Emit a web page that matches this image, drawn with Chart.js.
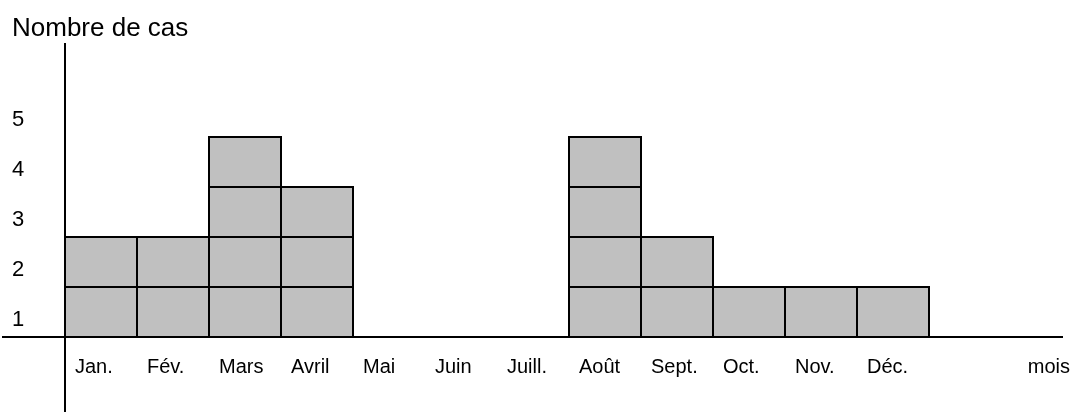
<!DOCTYPE html>
<html lang="fr">
<head>
<meta charset="utf-8">
<script src="https://cdn.jsdelivr.net/npm/chart.js@4.4.1/dist/chart.umd.min.js"></script>
<style>
  html, body { margin: 0; padding: 0; background: #fff; }
  #cadre { width: 1071px; height: 412px; }
</style>
</head>
<body>
<div id="cadre"><canvas id="graphique"></canvas></div>
<script>
const mois = ['Jan.', 'Fév.', 'Mars', 'Avril', 'Mai', 'Juin', 'Juill.', 'Août', 'Sept.', 'Oct.', 'Nov.', 'Déc.'];
const nombreCas = [2, 2, 4, 3, 0, 0, 0, 4, 2, 1, 1, 1];
const graduations = [1, 2, 3, 4, 5];
const titreAxeY = 'Nombre de cas';
const titreAxeX = 'mois';

const police = 'Arial, "Liberation Sans", sans-serif';

// un dataset par niveau : chaque cas est un carré
const niveaux = Math.max(...nombreCas);
const datasets = [];
for (let k = 1; k <= niveaux; k++) {
  datasets.push({
    label: 'cas ' + k,
    data: nombreCas.map(n => (n >= k ? 1 : null)),
    backgroundColor: '#c0c0c0',
    borderColor: '#000000',
    borderWidth: 2,
    inflateAmount: 1,
    borderSkipped: false,
    barPercentage: 1,
    categoryPercentage: 1,
    clip: false,
    stack: 'cas'
  });
}

// axes qui dépassent la zone du graphique + titres des axes
const axesPlugin = {
  id: 'axesLibres',
  afterDraw(chart) {
    const { ctx, chartArea, scales } = chart;
    const y0 = scales.y.getPixelForValue(0);
    ctx.save();
    ctx.strokeStyle = '#000';
    ctx.lineWidth = 2;
    ctx.beginPath();
    ctx.moveTo(2, y0);
    ctx.lineTo(1063, y0);
    ctx.moveTo(chartArea.left, 43);
    ctx.lineTo(chartArea.left, chart.height);
    ctx.stroke();

    ctx.fillStyle = '#000';
    ctx.textBaseline = 'alphabetic';
    ctx.font = '26px ' + police;
    ctx.textAlign = 'left';
    ctx.fillText(titreAxeY, 12, 36);
    ctx.font = '20px ' + police;
    ctx.textAlign = 'right';
    ctx.fillText(titreAxeX, 1070, 373);
    ctx.restore();
  }
};

const ctx = document.getElementById('graphique').getContext('2d');
new Chart(ctx, {
  type: 'bar',
  data: { labels: mois, datasets: datasets },
  options: {
    responsive: true,
    maintainAspectRatio: false,
    animation: false,
    layout: { padding: { left: 12, top: 42, right: 142, bottom: 0 } },
    plugins: {
      legend: { display: false },
      tooltip: { enabled: false }
    },
    scales: {
      x: {
        stacked: true,
        grid: { display: false, drawTicks: false },
        border: { display: false },
        ticks: {
          color: '#000',
          font: { family: police, size: 20 },
          align: 'start',
          labelOffset: -26,
          padding: 18,
          maxRotation: 0,
          autoSkip: false
        },
        afterFit: s => { s.height = 75; }
      },
      y: {
        stacked: true,
        min: 0,
        max: 5.9,
        grid: { display: false, drawTicks: false },
        border: { display: false },
        afterBuildTicks: s => { s.ticks = graduations.map(v => ({ value: v })); },
        ticks: {
          color: '#000',
          font: { family: police, size: 22 },
          crossAlign: 'far',
          labelOffset: 33,
          padding: 0
        },
        afterFit: s => { s.width = 53; }
      }
    }
  },
  plugins: [axesPlugin]
});
</script>
</body>
</html>
